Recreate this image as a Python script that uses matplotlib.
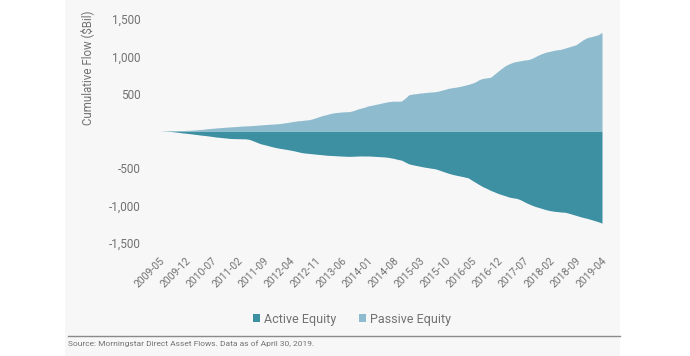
import matplotlib
matplotlib.use("Agg")
import matplotlib.pyplot as plt
from matplotlib.patches import Rectangle
import pandas as pd

months = pd.period_range("2009-05", "2019-04", freq="M").strftime("%Y-%m").tolist()

passive = [
    0, 1, 2, 3, 4, 4, 5, 8, 10, 13, 16, 20,
    26, 32, 36, 40, 44, 48, 52, 55, 58, 62, 66, 68,
    70, 74, 77, 81, 85, 88, 92, 95, 99, 105, 112, 120,
    128, 136, 140, 146, 150, 162, 178, 195, 210, 222, 236, 245,
    250, 255, 258, 260, 272, 290, 305, 318, 335, 345, 356, 366,
    378, 388, 396, 400, 398, 402, 440, 485, 495, 500, 508, 512,
    518, 522, 525, 535, 548, 562, 575, 582, 590, 600, 612, 625,
    640, 660, 690, 705, 712, 720, 760, 800, 840, 875, 900, 920,
    932, 940, 950, 955, 970, 995, 1020, 1040, 1057, 1068, 1080, 1088,
    1095, 1110, 1125, 1140, 1155, 1190, 1225, 1250, 1262, 1275, 1290, 1320,
]
active = [
    0, -2, -4, -7, -12, -18, -25, -30, -36, -42, -48, -55,
    -60, -66, -73, -80, -85, -90, -95, -100, -102, -103, -104, -105,
    -112, -130, -150, -170, -182, -195, -208, -220, -230, -238, -246, -255,
    -265, -276, -288, -295, -300, -305, -310, -315, -320, -325, -328, -330,
    -333, -336, -338, -340, -338, -336, -334, -335, -335, -337, -340, -343,
    -346, -350, -358, -368, -380, -390, -415, -440, -452, -462, -472, -482,
    -490, -498, -505, -520, -538, -555, -571, -584, -595, -605, -616, -628,
    -660, -690, -720, -748, -770, -795, -815, -836, -852, -868, -885, -895,
    -902, -920, -945, -970, -991, -1010, -1025, -1040, -1055, -1066, -1074, -1080,
    -1085, -1088, -1100, -1115, -1130, -1145, -1159, -1170, -1185, -1200, -1215, -1234,
]
y_ticks = [1500, 1000, 500, -500, -1000, -1500]
y_ticklabels = ["1,500", "1,000", "500", "-500", "-1,000", "-1,500"]
series_names = ["Active Equity", "Passive Equity"]

ACTIVE_C = "#3d8fa2"
PASSIVE_C = "#8ebbce"
TXT = "#727272"
plt.rcParams["font.family"] = ["Roboto", "DejaVu Sans"]

W, H = 690, 356
fig = plt.figure(figsize=(W / 100, H / 100), dpi=100)
fig.patch.set_facecolor("white")
# light panel background
fig.patches.append(Rectangle((65 / W, 0), (620 - 65) / W, 1, transform=fig.transFigure,
                             facecolor="#f8f7f8", edgecolor="none", zorder=-10))

ax = fig.add_axes([160 / W, 1 - 243 / H, (602 - 160) / W, (243 - 19) / H])
ax.set_facecolor("none")
x = list(range(len(months)))
ax.fill_between(x, 0, active, color=ACTIVE_C, linewidth=0, label=series_names[0])
ax.fill_between(x, 0, passive, color=PASSIVE_C, linewidth=0, label=series_names[1])
ax.set_xlim(0, len(months) - 1)
ax.set_ylim(-1500, 1500)
for s in ax.spines.values():
    s.set_visible(False)
ax.set_yticks(y_ticks)
ax.set_yticklabels(y_ticklabels, fontsize=8.5, color=TXT)
ax.tick_params(axis="y", length=0, pad=14)
xt = x[::7]
ax.set_xticks(xt)
ax.set_xticklabels([months[i] for i in xt], rotation=45, ha="right", rotation_mode="anchor",
                   fontsize=7.5, color=TXT)
ax.tick_params(axis="x", length=0, pad=9)

fig.text(87 / W, 1 - 68 / H, "Cumulative Flow ($Bil)", rotation=90, ha="center", va="center",
         fontsize=8.3, color=TXT)

leg = fig.legend(loc="center", bbox_to_anchor=(352 / W, 1 - 319 / H), ncol=2, frameon=False,
                 fontsize=9, handlelength=0.6, handleheight=0.6, handletextpad=0.3,
                 columnspacing=1.8, labelcolor=TXT)

fig.add_artist(plt.Line2D([68 / W, 620 / W], [1 - 336 / H, 1 - 336 / H], color="#8a8a8a",
                          linewidth=1.0, transform=fig.transFigure))
fig.text(68 / W, 1 - 344 / H, "Source: Morningstar Direct Asset Flows. Data as of April 30, 2019.",
         ha="left", va="center", fontsize=6, color=TXT)

fig.savefig("out.png", dpi=100)
